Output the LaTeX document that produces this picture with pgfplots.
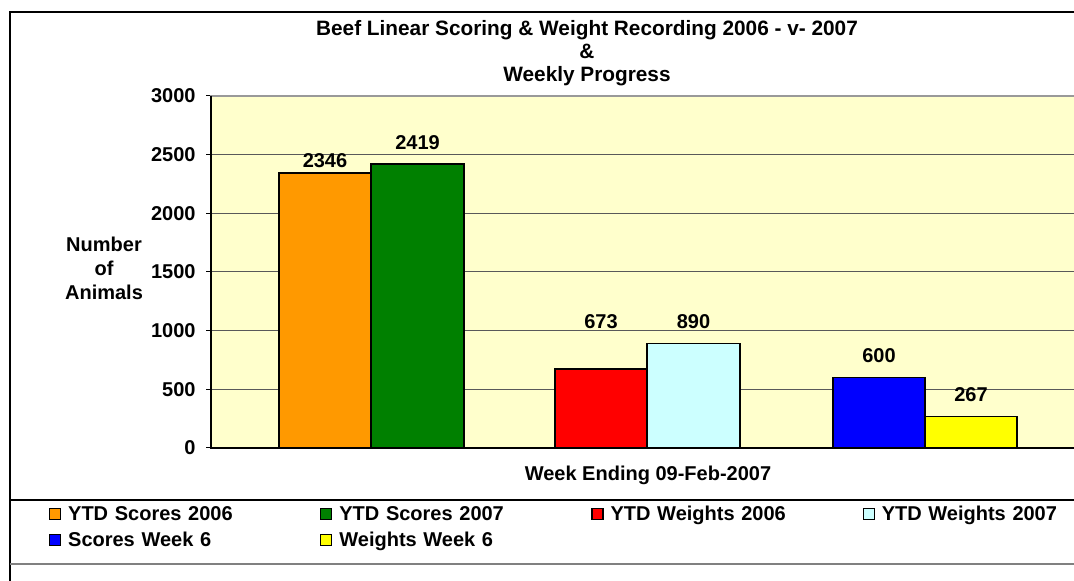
\documentclass[border=0pt]{standalone}
\usepackage{fontspec}
\setmainfont{Liberation Sans}
\usepackage{pgfplots}
\pgfplotsset{compat=1.18}
\definecolor{plotbg}{HTML}{FFFFCC}
\definecolor{c1}{HTML}{FF9900}
\definecolor{c2}{HTML}{008000}
\definecolor{c3}{HTML}{FF0000}
\definecolor{c4}{HTML}{CCFFFF}
\definecolor{c5}{HTML}{0000FF}
\definecolor{c6}{HTML}{FFFF00}
\pgfplotsset{
  sqbar/.style={ybar, bar shift=0pt, bar width=92.5, draw=black, line width=0.8pt, fill=#1,
    legend image code/.code={\draw[fill=#1, draw=black, line width=0.6pt] (0pt,-2pt) rectangle (5.5pt,3.5pt);},
    nodes near coords, every node near coord/.append style={font=\bfseries, anchor=south, inner ysep=0pt, black}},
  lab/.style={every node near coord/.append style={yshift=#1}},
}
\begin{document}
\begin{tikzpicture}
\useasboundingbox (0pt,0pt) rectangle (537pt,290.5pt);
\fill[white] (0pt,0pt) rectangle (537pt,290.5pt);
\draw[black, line width=0.8pt] (5pt,-5pt) -- (5pt,284.5pt) -- (560pt,284.5pt);
\draw[black, line width=0.6pt] (5pt,40.5pt) -- (560pt,40.5pt);
\draw[gray, line width=0.8pt] (5pt,8.5pt) -- (560pt,8.5pt);
\node[align=center, font=\fontsize{10.4}{11.5}\selectfont\bfseries] at (293.5pt,264pt) {Beef Linear Scoring \& Weight Recording 2006 - v- 2007\\\&\\Weekly Progress};
\begin{axis}[
  at={(105.5pt,66.5pt)}, anchor=south west,
  scale only axis, width=437pt, height=176pt,
  xmin=211, xmax=1085, ymin=0, ymax=3000,
  axis background/.style={fill=plotbg},
  axis line style={gray!80, line width=0.6pt},
  xtick=\empty,
  ytick={0,500,...,3000}, ytick pos=left,
  ymajorgrids, grid style={black!65, line width=0.5pt},
  tick align=outside, major tick length=2.5pt, tick style={black, line width=0.5pt},
  yticklabel style={font=\bfseries, inner xsep=0pt, xshift=-5pt},
  /pgf/number format/assume math mode=true,
  /pgf/number format/1000 sep={},
  scaled y ticks=false,
  ylabel={Number\\of\\Animals},
  ylabel style={rotate=-90, align=center, font=\bfseries, at={(axis description cs:-0.1224,0.511)}, anchor=center},
  xlabel={Week Ending 09-Feb-2007},
  xlabel style={font=\bfseries, at={(axis description cs:0.5,-0.0767)}, anchor=center},
  legend columns=4,
  legend style={at={(axis description cs:-0.1854,-0.1640)}, anchor=north west, draw=none, fill=none,
    inner sep=0pt, outer sep=0pt, column sep=0pt, row sep=3.5pt, font=\bfseries,
    nodes={inner xsep=3.5pt, inner ysep=0pt, text width=122.5pt, align=left, text height=7.5pt, text depth=2pt}},
  clip=false,
]
\addplot[sqbar=c1, lab=2.3pt] coordinates {(325,2346)};
\addlegendentry{YTD Scores 2006}
\addplot[sqbar=c2, lab=6.9pt] coordinates {(417.5,2419)};
\addlegendentry{YTD Scores 2007}
\addplot[sqbar=c3, lab=19.9pt] coordinates {(601,673)};
\addlegendentry{YTD Weights 2006}
\addplot[sqbar=c4, lab=6.9pt] coordinates {(693.5,890)};
\addlegendentry{YTD Weights 2007}
\addplot[sqbar=c5, lab=6.9pt] coordinates {(879,600)};
\addlegendentry{Scores Week 6}
\addplot[sqbar=c6, lab=6.9pt] coordinates {(971,267)};
\addlegendentry{Weights Week 6}
\draw[black, line width=0.7pt] (rel axis cs:0,1) -- (rel axis cs:0,0) -- (rel axis cs:1,0);
\end{axis}
\end{tikzpicture}
\end{document}
